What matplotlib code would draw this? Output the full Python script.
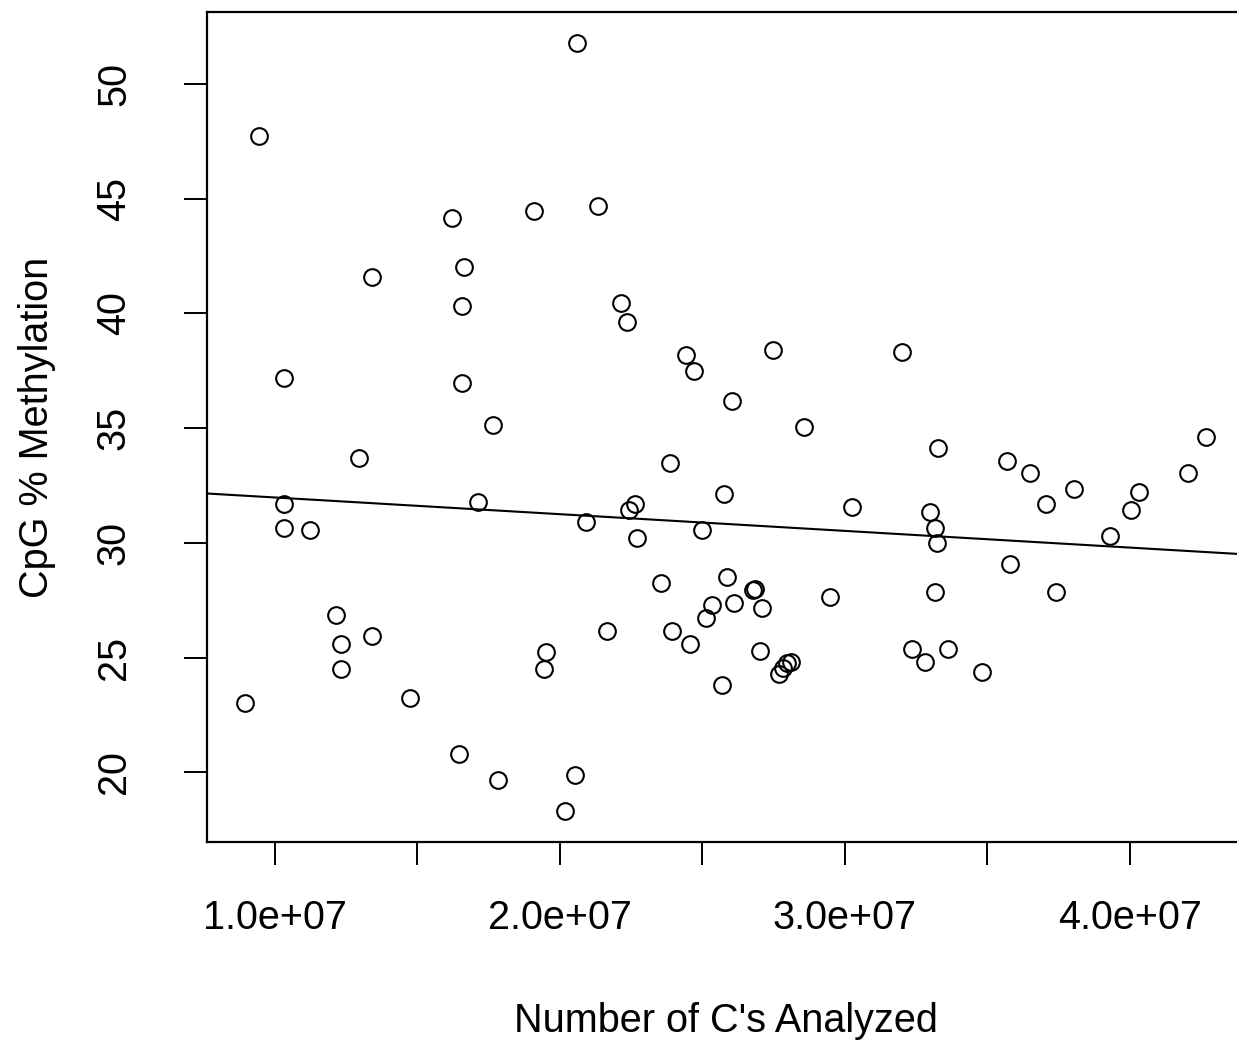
import numpy as np
import matplotlib
matplotlib.use("Agg")
import matplotlib.pyplot as plt

# Number of C's analyzed (millions) and CpG % methylation
x_millions = [20.59, 9.44, 21.32, 16.20, 19.08, 16.62, 13.40, 16.55, 22.16, 22.34,
              10.32, 16.55, 24.41, 24.69, 27.49, 32.01, 26.05, 17.64, 28.58, 33.27,
              42.67, 12.94, 23.88, 35.69, 36.50, 42.04, 38.04, 40.32, 25.77, 10.32,
              17.12, 22.62, 22.44, 30.26, 37.06, 40.04, 32.99, 20.90, 10.32, 11.23,
              24.97, 33.17, 22.69, 33.24, 39.30, 35.80, 25.88, 23.53, 26.79, 26.86,
              29.49, 33.17, 37.41, 25.32, 26.12, 27.10, 25.11, 12.14, 12.31, 13.40,
              21.64, 23.95, 24.58, 19.50, 27.03, 32.36, 33.62, 32.82, 12.31, 19.43,
              27.70, 27.81, 27.98, 28.12, 34.82, 25.67, 8.95, 14.73, 16.45, 17.82,
              20.52, 20.17]
methylation = [51.79, 47.73, 44.68, 44.16, 44.46, 42.02, 41.58, 40.32, 40.45, 39.62,
               37.18, 36.96, 38.18, 37.48, 38.40, 38.31, 36.18, 35.13, 35.04, 34.13,
               34.61, 33.69, 33.47, 33.56, 33.04, 33.04, 32.34, 32.21, 32.12, 31.68,
               31.77, 31.68, 31.42, 31.55, 31.68, 31.42, 31.33, 30.90, 30.64, 30.55,
               30.55, 30.64, 30.20, 29.98, 30.29, 29.07, 28.50, 28.24, 27.93, 27.98,
               27.63, 27.85, 27.85, 27.28, 27.37, 27.15, 26.71, 26.84, 25.58, 25.93,
               26.14, 26.14, 25.58, 25.23, 25.27, 25.36, 25.36, 24.79, 24.49, 24.49,
               24.27, 24.53, 24.75, 24.79, 24.36, 23.79, 23.00, 23.22, 20.78, 19.65,
               19.87, 18.30]

x_ticks = [1.0e7, 1.5e7, 2.0e7, 2.5e7, 3.0e7, 3.5e7, 4.0e7]
x_tick_labels = ["1.0e+07", "", "2.0e+07", "", "3.0e+07", "", "4.0e+07"]
y_ticks = [20, 25, 30, 35, 40, 45, 50]

x = np.array(x_millions) * 1e6
y = np.array(methylation)

plt.rcParams['font.family'] = ['Liberation Sans', 'DejaVu Sans']

W, H = 1237, 1042
fig = plt.figure(figsize=(W / 100, H / 100), dpi=100)
ax = fig.add_axes([206.5 / W, (H - 842) / H, (1244.5 - 206.5) / W, (842 - 12) / H])

ax.plot(x, y, linestyle='none', marker='o', markersize=12, markerfacecolor='none',
        markeredgecolor='black', markeredgewidth=1.5)

slope, intercept = np.polyfit(x, y, 1)
xl = np.array([0, 6e7])
ax.plot(xl, intercept + slope * xl, color='black', linewidth=1.5)

rx = x.max() - x.min()
ry = y.max() - y.min()
ax.set_xlim(x.min() - 0.04 * rx, x.max() + 0.04 * rx)
ax.set_ylim(y.min() - 0.04 * ry, y.max() + 0.04 * ry)

ax.set_xticks(x_ticks)
ax.set_xticklabels(x_tick_labels)
ax.set_yticks(y_ticks)
ax.set_yticklabels([str(v) for v in y_ticks], rotation=90, va='center')

ax.tick_params(axis='both', length=16.5, width=1.4, labelsize=28.5, colors='black')
ax.tick_params(axis='x', pad=24.5)
ax.tick_params(axis='y', pad=36.5)

for s in ax.spines.values():
    s.set_linewidth(1.6)

ax.set_xlabel("Number of C's Analyzed", fontsize=28.5, labelpad=46.5)
ax.set_ylabel("CpG % Methylation", fontsize=28.5, labelpad=28)

fig.savefig("out.png", dpi=100)
